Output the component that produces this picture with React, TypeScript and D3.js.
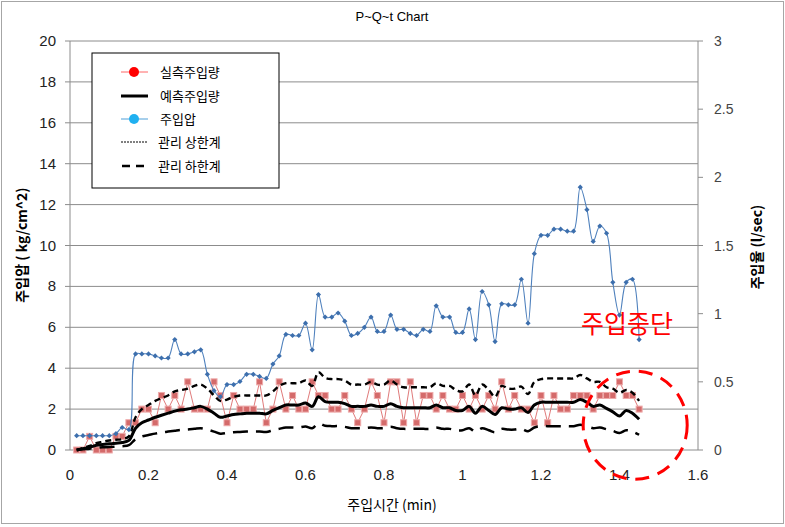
import React from "react";
import * as d3 from "d3";

const title = "P~Q~t Chart";
const xTicks = [0, 0.2, 0.4, 0.6, 0.8, 1, 1.2, 1.4, 1.6];
const leftTicks = [0, 2, 4, 6, 8, 10, 12, 14, 16, 18, 20];
const rightTicks = [0, 0.5, 1, 1.5, 2, 2.5, 3];

const time = [0.017, 0.033, 0.05, 0.067, 0.083, 0.1, 0.117, 0.133, 0.15, 0.167, 0.183, 0.2, 0.217, 0.233, 0.25, 0.267, 0.283, 0.3, 0.317, 0.333, 0.35, 0.367, 0.383, 0.4, 0.417, 0.433, 0.45, 0.467, 0.483, 0.5, 0.517, 0.533, 0.55, 0.567, 0.583, 0.6, 0.617, 0.633, 0.65, 0.667, 0.683, 0.7, 0.717, 0.733, 0.75, 0.767, 0.783, 0.8, 0.817, 0.833, 0.85, 0.867, 0.883, 0.9, 0.917, 0.933, 0.95, 0.967, 0.983, 1.0, 1.017, 1.033, 1.05, 1.067, 1.083, 1.1, 1.117, 1.133, 1.15, 1.167, 1.183, 1.2, 1.217, 1.233, 1.25, 1.267, 1.283, 1.3, 1.317, 1.333, 1.35, 1.367, 1.383, 1.4, 1.417, 1.433, 1.45];

// 주입압 (kg/cm^2), left axis
const pressure = [0.7, 0.7, 0.7, 0.7, 0.7, 0.7, 0.8, 1.1, 1.0, 4.7, 4.7, 4.7, 4.6, 4.5, 4.5, 5.4, 4.7, 4.7, 4.8, 4.9, 3.7, 2.9, 2.6, 3.2, 3.2, 3.35, 3.7, 3.7, 3.6, 3.5, 4.2, 4.6, 5.65, 5.6, 5.6, 6.2, 4.9, 7.6, 6.5, 6.5, 6.7, 6.3, 5.6, 5.7, 6.0, 6.5, 5.8, 5.8, 6.6, 5.9, 5.9, 5.7, 5.6, 5.9, 5.8, 7.05, 6.5, 6.5, 5.75, 5.75, 6.9, 5.4, 7.75, 7.1, 5.3, 7.15, 7.1, 7.1, 8.35, 6.2, 9.6, 10.5, 10.5, 10.8, 10.8, 10.7, 10.7, 12.85, 11.75, 10.2, 10.95, 10.6, 8.2, 6.6, 8.2, 8.35, 5.4];

// 실측주입량 (l/sec), right axis
const actual = [0, 0, 0.1, 0, 0, 0, 0.1, 0.1, 0.2, 0.2, 0.3, 0.3, 0.2, 0.4, 0.3, 0.4, 0.3, 0.5, 0.3, 0.3, 0.3, 0.5, 0.4, 0.2, 0.4, 0.3, 0.3, 0.3, 0.5, 0.2, 0.3, 0.5, 0.3, 0.4, 0.3, 0.3, 0.5, 0.4, 0.4, 0.3, 0.3, 0.4, 0.3, 0.2, 0.3, 0.5, 0.4, 0.2, 0.5, 0.5, 0.2, 0.5, 0.2, 0.4, 0.4, 0.3, 0.4, 0.3, 0.3, 0.4, 0.3, 0.4, 0.3, 0.4, 0.3, 0.5, 0.3, 0.4, 0.3, 0.3, 0.2, 0.4, 0.2, 0.4, 0.3, 0.3, 0.4, 0.4, 0.4, 0.3, 0.4, 0.4, 0.4, 0.5, 0.4, 0.4, 0.3];

// 예측주입량 (l/sec), right axis
const predicted = [0.0, 0.01, 0.02, 0.035, 0.04, 0.045, 0.05, 0.055, 0.07, 0.16, 0.2, 0.22, 0.24, 0.255, 0.27, 0.285, 0.295, 0.3, 0.31, 0.32, 0.3, 0.27, 0.24, 0.25, 0.26, 0.265, 0.27, 0.27, 0.27, 0.265, 0.29, 0.31, 0.33, 0.33, 0.33, 0.345, 0.32, 0.39, 0.355, 0.35, 0.35, 0.34, 0.32, 0.32, 0.32, 0.33, 0.32, 0.32, 0.34, 0.32, 0.31, 0.31, 0.31, 0.31, 0.31, 0.33, 0.31, 0.31, 0.29, 0.29, 0.32, 0.27, 0.32, 0.29, 0.26, 0.31, 0.3, 0.3, 0.31, 0.275, 0.33, 0.35, 0.35, 0.35, 0.35, 0.35, 0.35, 0.37, 0.35, 0.32, 0.33, 0.305, 0.28, 0.25, 0.29, 0.27, 0.225];

// 관리 상한계
const upper = [0.0, 0.015, 0.03, 0.05, 0.06, 0.07, 0.075, 0.08, 0.1, 0.24, 0.3, 0.33, 0.36, 0.38, 0.4, 0.43, 0.44, 0.45, 0.47, 0.48, 0.45, 0.4, 0.36, 0.37, 0.39, 0.4, 0.4, 0.4, 0.4, 0.4, 0.43, 0.47, 0.49, 0.49, 0.49, 0.51, 0.47, 0.57, 0.53, 0.52, 0.52, 0.51, 0.48, 0.48, 0.48, 0.5, 0.48, 0.48, 0.51, 0.48, 0.46, 0.46, 0.46, 0.46, 0.46, 0.49, 0.47, 0.47, 0.44, 0.43, 0.48, 0.4, 0.48, 0.44, 0.39, 0.47, 0.45, 0.45, 0.465, 0.41, 0.5, 0.52, 0.525, 0.525, 0.525, 0.525, 0.525, 0.55, 0.525, 0.5, 0.5, 0.46, 0.45, 0.42, 0.44, 0.42, 0.36];

// 관리 하한계
const lower = [0.0, 0.005, 0.01, 0.017, 0.02, 0.022, 0.025, 0.028, 0.035, 0.08, 0.1, 0.11, 0.12, 0.128, 0.135, 0.142, 0.148, 0.15, 0.155, 0.16, 0.15, 0.135, 0.12, 0.125, 0.13, 0.132, 0.135, 0.135, 0.135, 0.132, 0.145, 0.155, 0.165, 0.165, 0.165, 0.172, 0.16, 0.195, 0.178, 0.175, 0.175, 0.17, 0.16, 0.16, 0.16, 0.165, 0.16, 0.16, 0.17, 0.16, 0.155, 0.155, 0.155, 0.155, 0.155, 0.165, 0.155, 0.155, 0.145, 0.145, 0.16, 0.135, 0.16, 0.145, 0.13, 0.155, 0.15, 0.15, 0.155, 0.138, 0.165, 0.175, 0.175, 0.175, 0.175, 0.175, 0.175, 0.185, 0.175, 0.16, 0.165, 0.152, 0.14, 0.125, 0.145, 0.135, 0.112];

const legendLabels = ["실측주입량", "예측주입량", "주입압", "관리 상한계", "관리 하한계"];
const stopLabel = "주입중단";

const W = 785;
const H = 527;
const PL = 70, PR = 698, PT = 41, PB = 450;

const x = d3.scaleLinear().domain([0, 1.6]).range([PL, PR]);
const yL = d3.scaleLinear().domain([0, 20]).range([PB, PT]);
const yR = d3.scaleLinear().domain([0, 3]).range([PB, PT]);

const numFont = "'Liberation Sans', Arial, sans-serif";
const krFont = "'Noto Sans CJK KR', 'Noto Sans', sans-serif";

function lineR(vals: number[]) {
  return d3
    .line<number>()
    .x((_, i) => x(time[i]))
    .y((v) => yR(v))(vals) as string;
}

export default function App() {
  const pressurePath = d3
    .line<number>()
    .x((_, i) => x(time[i]))
    .y((v) => yL(v))
    .curve(d3.curveCatmullRom.alpha(0.5))(pressure) as string;
  const predictedPath = d3
    .line<number>()
    .x((_, i) => x(time[i]))
    .y((v) => yR(v))
    .curve(d3.curveCatmullRom.alpha(0.5))(predicted) as string;
  const upperPath = d3
    .line<number>()
    .x((_, i) => x(time[i]))
    .y((v) => yR(v))
    .curve(d3.curveCatmullRom.alpha(0.5))(upper) as string;
  const lowerPath = d3
    .line<number>()
    .x((_, i) => x(time[i]))
    .y((v) => yR(v))
    .curve(d3.curveCatmullRom.alpha(0.5))(lower) as string;
  const actualPath = lineR(actual);

  const ecx = x(1.44);
  const ecy = yR(0.38) + 27;
  const lgX = 92, lgY = 53;
  const rowY = [72, 96, 119, 142, 166];

  return (
    <svg
      width={W}
      height={H}
      style={{ position: "absolute", left: 0, top: 0, background: "#fff" }}
    >
      <rect x={1.5} y={1.5} width={782} height={522} fill="#fff" stroke="#a6a6a6" strokeWidth={1} />

      <text x={392} y={21} textAnchor="middle" fontFamily={numFont} fontSize={13} fill="#000">
        {title}
      </text>

      {leftTicks.map((t) => (
        <line key={"g" + t} x1={PL} x2={PR} y1={yL(t)} y2={yL(t)} stroke="#8c8c8c" strokeWidth={1} />
      ))}
      <line x1={PL} x2={PL} y1={PT} y2={PB} stroke="#8c8c8c" strokeWidth={1} />
      <line x1={PR} x2={PR} y1={PT} y2={PB} stroke="#8c8c8c" strokeWidth={1} />
      {leftTicks.map((t) => (
        <line key={"lt" + t} x1={PL - 5} x2={PL} y1={yL(t)} y2={yL(t)} stroke="#8c8c8c" />
      ))}
      {rightTicks.map((t) => (
        <line key={"rt" + t} x1={PR} x2={PR + 5} y1={yR(t)} y2={yR(t)} stroke="#8c8c8c" />
      ))}

      {leftTicks.map((t) => (
        <text key={"ll" + t} x={56} y={yL(t) + 5} textAnchor="end" fontFamily={numFont} fontSize={15} fill="#222">
          {t}
        </text>
      ))}
      {rightTicks.map((t) => (
        <text key={"rl" + t} x={714} y={yR(t) + 5} textAnchor="start" fontFamily={numFont} fontSize={14} fill="#444">
          {t}
        </text>
      ))}
      {xTicks.map((t) => (
        <text key={"xl" + t} x={x(t)} y={480} textAnchor="middle" fontFamily={numFont} fontSize={15} fill="#222">
          {t}
        </text>
      ))}

      <text x={392} y={510} textAnchor="middle" fontFamily={krFont} fontSize={14} fill="#000">
        주입시간 (min)
      </text>
      <text
        transform={`translate(27,${245}) rotate(-90)`}
        textAnchor="middle"
        fontFamily={krFont}
        fontSize={14}
        fontWeight="bold"
        fill="#000"
      >
        주입압 ( kg/cm^2)
      </text>
      <text
        transform={`translate(762,${247}) rotate(-90)`}
        textAnchor="middle"
        fontFamily={krFont}
        fontSize={14}
        fontWeight="bold"
        fill="#000"
      >
        주입율 (l/sec)
      </text>

      <path d={actualPath} fill="none" stroke="#e07a7a" strokeWidth={1} />
      {actual.map((v, i) => (
        <rect
          key={"a" + i}
          x={x(time[i]) - 3}
          y={yR(v) - 3}
          width={6}
          height={6}
          fill="#d46a6a"
          stroke="#eeaaaa"
          strokeWidth={1}
        />
      ))}

      <path d={lowerPath} fill="none" stroke="#000" strokeWidth={2.5} strokeDasharray="15,8" />
      <path d={upperPath} fill="none" stroke="#000" strokeWidth={2.4} strokeDasharray="6,4" />

      <path d={predictedPath} fill="none" stroke="#000" strokeWidth={3} />

      <path d={pressurePath} fill="none" stroke="#4f81bd" strokeWidth={1.1} />
      {pressure.map((v, i) => {
        const cx = x(time[i]);
        const cy = yL(v);
        return (
          <path
            key={"p" + i}
            d={`M${cx},${cy - 2.6}L${cx + 2.6},${cy}L${cx},${cy + 2.6}L${cx - 2.6},${cy}Z`}
            fill="#3d6fad"
          />
        );
      })}

      <text x={627} y={333} textAnchor="middle" fontFamily={krFont} fontSize={25} fill="#ff0000">
        {stopLabel}
      </text>
      <ellipse
        cx={ecx}
        cy={ecy}
        rx={52}
        ry={54}
        fill="none"
        stroke="#ff0000"
        strokeWidth={3}
        strokeDasharray="14,9"
      />

      <rect x={lgX} y={lgY} width={187} height={135} fill="#fff" stroke="#000" strokeWidth={1} />
      <line x1={121} x2={148} y1={rowY[0]} y2={rowY[0]} stroke="#ff6666" strokeWidth={1} />
      <circle cx={134} cy={rowY[0]} r={5} fill="#ff0000" />
      <line x1={121} x2={148} y1={rowY[1]} y2={rowY[1]} stroke="#000" strokeWidth={3} />
      <line x1={121} x2={148} y1={rowY[2]} y2={rowY[2]} stroke="#4f9fd8" strokeWidth={1} />
      <circle cx={134} cy={rowY[2]} r={5} fill="#20b0f0" />
      <line x1={121} x2={148} y1={rowY[3]} y2={rowY[3]} stroke="#000" strokeWidth={1} strokeDasharray="2,1" />
      <line x1={122} x2={148} y1={rowY[4]} y2={rowY[4]} stroke="#000" strokeWidth={2.5} strokeDasharray="8,6" />
      {legendLabels.map((l, i) => (
        <text
          key={"lg" + i}
          x={i >= 3 ? 158 : 160}
          y={rowY[i] + 5}
          fontFamily={krFont}
          fontSize={13}
          fill="#000"
        >
          {l}
        </text>
      ))}
    </svg>
  );
}
